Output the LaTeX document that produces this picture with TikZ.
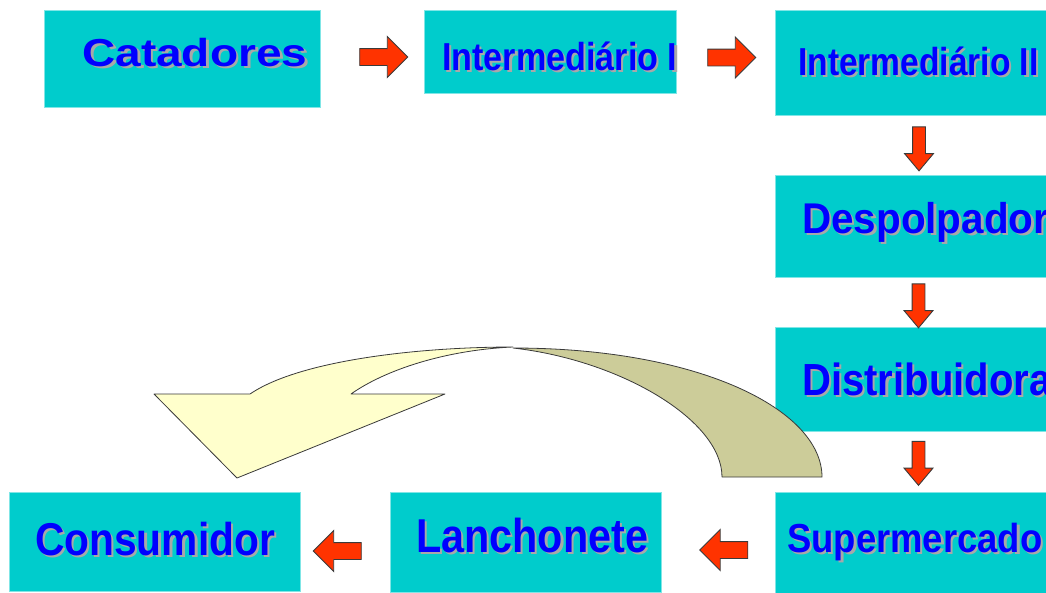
\documentclass[tikz,border=0pt]{standalone}
\usepackage{fontspec}
\setmainfont{Liberation Sans}
\definecolor{cadeiaCyan}{HTML}{00CCCC}
\definecolor{cadeiaRim}{HTML}{80E6E6}
\definecolor{cadeiaBlue}{HTML}{0000FF}
\definecolor{cadeiaShadow}{HTML}{A8A8A8}
\definecolor{cadeiaRed}{HTML}{FF3300}
\definecolor{cadeiaEdge}{HTML}{3A3A3A}
\definecolor{cadeiaCream}{HTML}{FFFFCC}
\definecolor{cadeiaKhaki}{HTML}{CCCC99}
\usepackage{tikz}
\usetikzlibrary{shapes.arrows}
\newcommand{\shadowed}[2]{\scalebox{#1}[1]{\rlap{\hspace{2.5pt}\raisebox{-2.5pt}{\textcolor{cadeiaShadow}{#2}}}\textcolor{cadeiaBlue}{#2}}}

\begin{document}
\begin{tikzpicture}[
    x=1pt, y=-1pt,
    box/.style={
      anchor=north west,
      draw=cadeiaRim,
      fill=cadeiaCyan,
      line width=0.6pt,
      inner sep=0pt,
      outer sep=0pt,
    },
    lbl/.style={anchor=base west, inner sep=0pt, font=\bfseries\fontsize{#1}{#1}\selectfont},
    flow/.style={single arrow, fill=cadeiaRed, draw=cadeiaEdge, line width=0.9pt, inner sep=8pt, single arrow head extend=12pt, minimum height=48pt},
    darr/.style={single arrow, fill=cadeiaRed, draw=cadeiaEdge, line width=0.9pt, inner sep=6pt, single arrow head extend=8pt, single arrow tip angle=80, minimum height=44pt, shape border rotate=270},
    larr/.style={flow, shape border rotate=180},
  ]
    \useasboundingbox (0,0) rectangle (1046,592);

    % Top row
    \node[box, minimum width=276pt, minimum height=97pt] (cat) at (44,10) {};
    \node[lbl=39] (catL) at (82,66) {\shadowed{1.18}{Catadores}};
    \node[box, minimum width=252pt, minimum height=83pt] (int1) at (424,10) {};
    \node[lbl=39] (int1L) at (442,70) {\shadowed{0.875}{Intermediário I}};
    \node[box, minimum width=275pt, minimum height=105pt] (int2) at (775,10) {};
    \node[lbl=39] (int2L) at (798,75) {\shadowed{0.86}{Intermediário II}};

    % Right column
    \node[box, minimum width=275pt, minimum height=102pt] (desp) at (775,175) {};
    \node[lbl=43] (despL) at (802,233) {\shadowed{0.94}{Despolpador}};
    \node[box, minimum width=275pt, minimum height=104pt] (dist) at (775,327) {};
    \node[lbl=45] (distL) at (802,395) {\shadowed{0.89}{Distribuidora}};
    \node[box, minimum width=275pt, minimum height=102pt] (sup) at (775,492) {};
    \node[lbl=40.5] (supL) at (787,552) {\shadowed{0.9}{Supermercado}};

    % Bottom row
    \node[box, minimum width=271pt, minimum height=100pt] (lan) at (390,492) {};
    \node[lbl=47.5] (lanL) at (416,552) {\shadowed{0.87}{Lanchonete}};
    \node[box, minimum width=291pt, minimum height=99pt] (con) at (9,492) {};
    \node[lbl=46] (conL) at (35,555) {\shadowed{0.885}{Consumidor}};

    % Block arrows
    \node[flow] (a1) at (379.5,57) {};
    \node[flow] (a2) at (727.5,57.5) {};
    \node[darr] (a3) at (919,145) {};
    \node[darr] (a4) at (918.5,302) {};
    \node[darr] (a5) at (918.5,459.5) {};
    \node[larr] (a6) at (728,550) {};
    \node[larr] (a7) at (341.5,551) {};

    % Curved arrow
    \draw[fill=cadeiaKhaki, draw=cadeiaEdge, line width=0.8pt, line join=round]
      (513,348) .. controls (700,348) and (822,410) .. (822,477) -- (722,477)
      .. controls (722,420) and (620,360) .. (513,348) -- cycle;
    \draw[fill=cadeiaCream, draw=cadeiaEdge, line width=0.8pt, line join=round]
      (154,394) -- (250,394) .. controls (300,360) and (420,347) .. (513,347)
      .. controls (445,350) and (385,370) .. (351,394) -- (445,394) -- (237,478) -- cycle;
  \end{tikzpicture}
\end{document}
